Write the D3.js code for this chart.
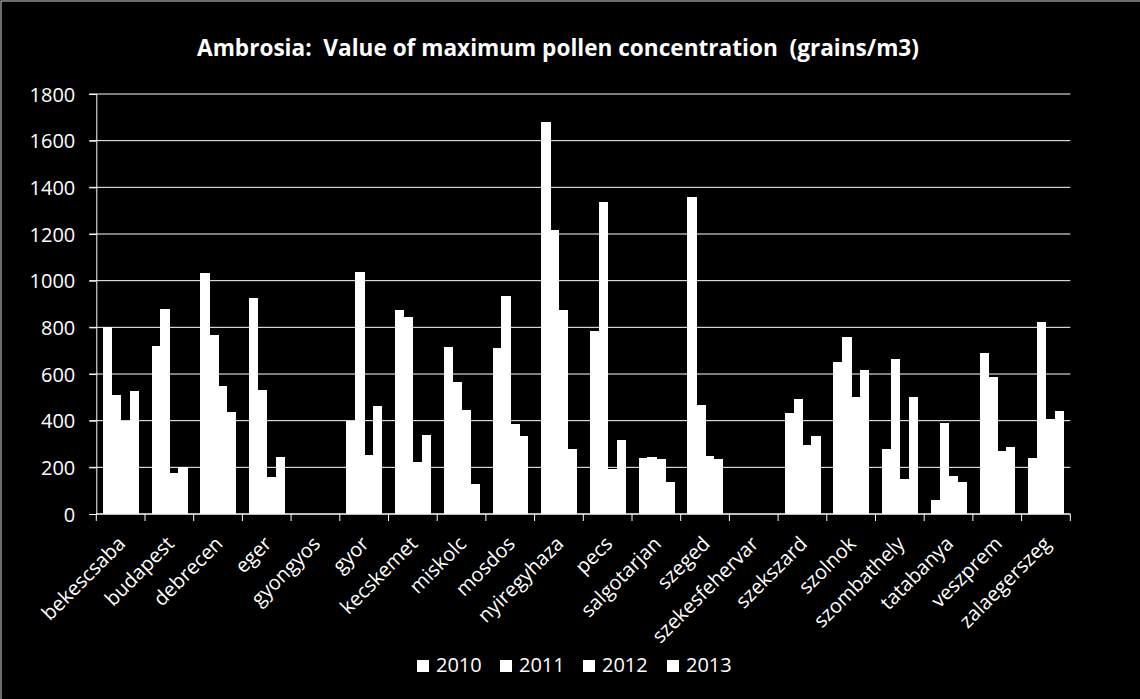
<!DOCTYPE html>
<html>
<head>
<meta charset="utf-8">
<script src="https://cdn.jsdelivr.net/npm/d3@7"></script>
<style>
  html, body { margin: 0; padding: 0; background: #000; }
  svg { display: block; }
  text { font-family: "Open Sans", sans-serif; fill: #fff; }
</style>
</head>
<body>
<svg id="chart" width="1140" height="699"></svg>
<script>
const categories = ["bekescsaba","budapest","debrecen","eger","gyongyos","gyor","kecskemet","miskolc","mosdos","nyiregyhaza","pecs","salgotarjan","szeged","szekesfehervar","szekszard","szolnok","szombathely","tatabanya","veszprem","zalaegerszeg"];
const years = ["2010","2011","2012","2013"];
const v2010 = [801, 721, 1034, 927, 0, 400, 876, 717, 713, 1681, 786, 241, 1360, 0, 434, 653, 280, 61, 691, 241];
const v2011 = [511, 880, 769, 533, 0, 1039, 846, 567, 936, 1219, 1339, 246, 469, 0, 494, 760, 666, 391, 589, 824];
const v2012 = [400, 174, 550, 157, 0, 254, 224, 447, 387, 876, 194, 237, 250, 0, 297, 503, 151, 164, 271, 409];
const v2013 = [528, 201, 436, 246, 0, 464, 340, 130, 336, 280, 319, 139, 237, 0, 336, 619, 503, 139, 289, 443];
const yTicks = [0, 200, 400, 600, 800, 1000, 1200, 1400, 1600, 1800];
const title = "Ambrosia:  Value of maximum pollen concentration  (grains/m3)";

const series = [v2010, v2011, v2012, v2013];
const rows = categories.map((c, i) => ({cat: c, vals: years.map((y, k) => ({year: y, value: series[k][i]}))}));

const svg = d3.select("#chart");
const plotL = 96.3, plotR = 1070.3, plotT = 94, plotB = 514;

svg.append("rect").attr("x", 0).attr("y", 0).attr("width", 1140).attr("height", 699).attr("fill", "#000");
svg.append("rect").attr("x", 1).attr("y", 1).attr("width", 1150).attr("height", 710)
  .attr("fill", "none").attr("stroke", "#d9d9d9").attr("stroke-width", 1);

const x0 = d3.scaleBand().domain(categories).range([plotL, plotR]).paddingInner(1.5/5.5).paddingOuter(0.75/5.5);
const x1 = d3.scaleBand().domain(years).range([0, x0.bandwidth()]).padding(0);
const y = d3.scaleLinear().domain([0, 1800]).range([plotB, plotT]);

// gridlines
svg.append("g").selectAll("line").data(yTicks.filter(t => t > 0)).join("line")
  .attr("x1", plotL - 7).attr("x2", plotR)
  .attr("y1", d => y(d)).attr("y2", d => y(d))
  .attr("stroke", "#fff").attr("stroke-width", 1);

// y axis
const yAxis = d3.axisLeft(y).tickValues(yTicks).tickSize(7).tickPadding(14).tickFormat(d3.format("d"));
const gy = svg.append("g").attr("transform", `translate(${plotL},0)`).call(yAxis);
gy.select(".domain").attr("stroke", "#fff");
gy.selectAll(".tick line").attr("stroke", "#fff");
gy.selectAll(".tick text").attr("font-size", 20).attr("font-family", "Open Sans").attr("fill", "#fff").attr("dy", "0.35em");

// bars
const groups = svg.append("g").attr("shape-rendering", "crispEdges").selectAll("g").data(rows).join("g")
  .attr("transform", d => `translate(${x0(d.cat)},0)`);
groups.selectAll("rect").data(d => d.vals).join("rect")
  .attr("x", d => x1(d.year))
  .attr("width", x1.bandwidth() + 0.5)
  .attr("y", d => y(d.value))
  .attr("height", d => y(0) - y(d.value))
  .attr("fill", "#fff");

// x axis
const xStep = x0.step();
const gx = svg.append("g").attr("transform", `translate(0,${plotB})`);
gx.append("line").attr("x1", plotL).attr("x2", plotR).attr("y1", 0).attr("y2", 0).attr("stroke", "#fff").attr("stroke-width", 1.5);
gx.selectAll("line.tk").data(d3.range(categories.length + 1)).join("line").attr("class", "tk")
  .attr("x1", i => plotL + i * xStep).attr("x2", i => plotL + i * xStep)
  .attr("y1", 0).attr("y2", 7).attr("stroke", "#fff");
gx.selectAll("text").data(categories).join("text")
  .attr("transform", d => `translate(${x0(d) + x0.bandwidth()/2 + 6},31) rotate(-45)`)
  .attr("text-anchor", "end")
  .attr("font-size", 20)
  .text(d => d);

// title
svg.append("text").attr("x", 558).attr("y", 56).attr("text-anchor", "middle")
  .attr("font-size", 22.6).attr("font-weight", "bold").style("white-space", "pre")
  .text(title);

// legend
const legendX = [417, 500, 583, 667];
const lg = svg.append("g").selectAll("g").data(years).join("g")
  .attr("transform", (d, i) => `translate(${legendX[i]},660)`);
lg.append("rect").attr("width", 12).attr("height", 12).attr("fill", "#fff");
lg.append("text").attr("x", 19).attr("y", 12).attr("font-size", 20).text(d => d);
</script>
</body>
</html>
